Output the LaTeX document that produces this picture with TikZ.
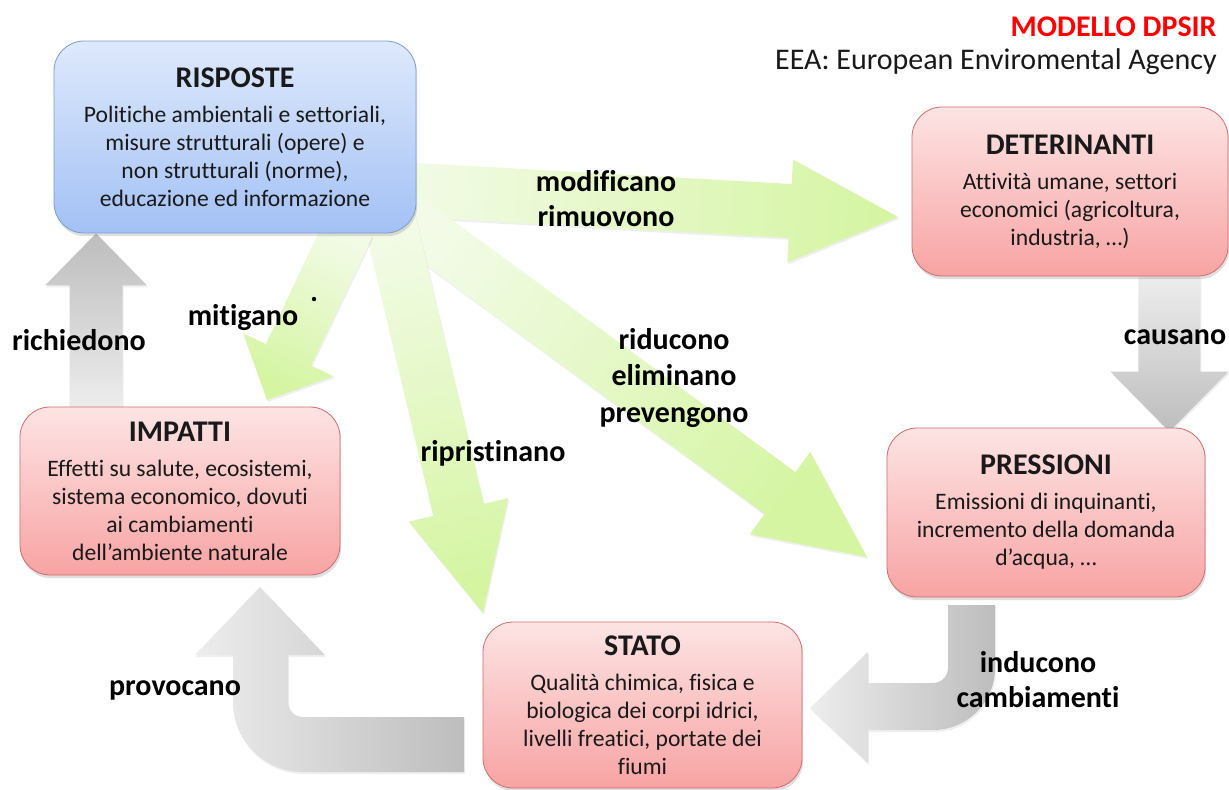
\documentclass[tikz,border=0pt]{standalone}
\usepackage{fontspec}
\setmainfont[Ligatures={NoCommon}]{Carlito}
\usetikzlibrary{calc,shadows,backgrounds}

\definecolor{redtop}{HTML}{FDE4E4}
\definecolor{redbot}{HTML}{F8A3A3}
\definecolor{redline}{HTML}{D06C6C}
\definecolor{bluetop}{HTML}{DEE9FC}
\definecolor{bluebot}{HTML}{A3C1F5}
\definecolor{blueline}{HTML}{7A9CD4}
\definecolor{greentail}{HTML}{F3FBE8}
\definecolor{greenhead}{HTML}{D5F5A2}
\definecolor{greylight}{HTML}{EDEDED}
\definecolor{greydark}{HTML}{BDBDBD}

\tikzset{
  box/.style={rectangle, rounded corners=15pt, align=center, inner sep=0pt,
    text=black!90, font=\fontsize{11.8}{14}\selectfont,
    drop shadow={opacity=0.25, shadow xshift=0.6pt, shadow yshift=-1.6pt}},
  redbox/.style={box, draw=redline, top color=redtop, bottom color=redbot},
  bluebox/.style={box, draw=blueline, top color=bluetop, bottom color=bluebot},
  lbl/.style={font=\fontsize{15}{17.5}\selectfont\bfseries, align=center, inner sep=0pt},
  greenarrow/.style={top color=greentail, bottom color=greenhead, shading angle=#1,
    drop shadow={opacity=0.12, shadow xshift=0.5pt, shadow yshift=-1pt}},
  greyarrow/.style={top color=greylight, bottom color=greydark, shading angle=#1,
    drop shadow={opacity=0.12, shadow xshift=0.5pt, shadow yshift=-1pt}}
}

% title line inside a box
\newcommand{\ttl}[1]{{\fontsize{15}{18}\selectfont\bfseries #1}}

% block arrow: [style]{tail}{tip}{half shaft}{half head}{head length}
\newcommand{\fatarrow}[6][]{%
  \coordinate (fab) at ($(#3)!#6!(#2)$);
  \path[#1] ($(#2)!#4!90:(#3)$) -- ($(fab)!#4!90:(#3)$) -- ($(fab)!#5!90:(#3)$)
    -- (#3) -- ($(fab)!#5!-90:(#3)$) -- ($(fab)!#4!-90:(#3)$)
    -- ($(#2)!#4!-90:(#3)$) -- cycle;}

\begin{document}
\begin{tikzpicture}[x=0.5pt, y=-0.5pt]
\useasboundingbox (0,0) rectangle (1229,789);

\node[bluebox, minimum width=181pt, minimum height=96pt] (risp) at (235,137)
{\ttl{RISPOSTE}\\[3.5pt] Politiche ambientali e settoriali,\\ misure strutturali (opere) e\\
 non strutturali (norme),\\ educazione ed informazione};
\node[redbox, minimum width=158pt, minimum height=84.5pt] (det) at (1070,191.5)
{\ttl{DETERINANTI}\\[3.5pt] Attività umane, settori\\ economici (agricoltura,\\ industria, …)};
\node[redbox, minimum width=159pt, minimum height=84.5pt] (pres) at (1046,512.5)
{\ttl{PRESSIONI}\\[3.5pt] Emissioni di inquinanti,\\ incremento della domanda\\ d’acqua, …};
\node[redbox, minimum width=159.5pt, minimum height=83pt] (stato) at (642.5,705)
{\ttl{STATO}\\[3.5pt] Qualità chimica, fisica e\\ biologica dei corpi idrici,\\
 livelli freatici, portate dei\\ fiumi};
\node[redbox, minimum width=160pt, minimum height=84pt] (imp) at (180,491)
{\ttl{IMPATTI}\\[3.5pt] Effetti su salute, ecosistemi,\\ sistema economico, dovuti\\
 ai cambiamenti\\ dell’ambiente naturale};

% arrows behind the boxes
\begin{scope}[on background layer]
\fill[white] (0,0) rectangle (1229,789);

\coordinate (mod0) at (380,188);
\coordinate (mod1) at (898,217);
\coordinate (rid0) at (380,199);
\coordinate (rid1) at (867,557);
\coordinate (rip0) at (385,200);
\coordinate (rip1) at (483,613);
\coordinate (mit0) at (350,225);
\coordinate (mit1) at (267,400);
\fatarrow[greenarrow=86.8]{mod0}{mod1}{13.5pt}{25.75pt}{54pt}
\fatarrow[greenarrow=53.7]{rid0}{rid1}{13pt}{25.5pt}{54pt}
\fatarrow[greenarrow=13.3]{rip0}{rip1}{13pt}{25.5pt}{53pt}
\fatarrow[greenarrow=334.6]{mit0}{mit1}{12.5pt}{25pt}{25pt}

\coordinate (ric0) at ($(imp.north west)+(76.5,0)$);
\coordinate (ric1) at (ric0 |- risp.south);
\fatarrow[greyarrow=180]{ric0}{ric1}{13.25pt}{25.5pt}{26pt}
\coordinate (cau0) at ($(det.south east)+(-59,0)$);
\coordinate (cau1) at ($(cau0 |- pres.north)+(0,4)$);
\fatarrow[greyarrow=0]{cau0}{cau1}{15.5pt}{29.5pt}{30pt}

% bent arrow pressioni -> stato
\path[left color=greylight, right color=greydark,
  drop shadow={opacity=0.12, shadow xshift=0.5pt, shadow yshift=-1pt}]
  (948,605) -- (948,668) arc[start angle=0, end angle=-90, radius=7.5pt]
  -- (868,683) -- (868,652) -- (810,708) -- (868,763) -- (868,730) -- (933,730)
  arc[start angle=-90, end angle=0, radius=31pt] -- (995,605) -- cycle;
% bent arrow stato -> impatti
\path[left color=greylight, right color=greydark,
  drop shadow={opacity=0.12, shadow xshift=0.5pt, shadow yshift=-1pt}]
  (464,717) -- (303,717) arc[start angle=-90, end angle=-180, radius=7.5pt]
  -- (288,655) -- (325,655) -- (260,587) -- (195,655) -- (233,655) -- (233,702)
  arc[start angle=180, end angle=270, radius=35pt] -- (464,772) -- cycle;
\end{scope}

\node[lbl] (modl) at (606,199) {modificano\\rimuovono};
\node[lbl] (ridl) at (674,378) {riducono\\[0.75pt]eliminano\\[0.75pt]prevengono};
\node[lbl] (ripl) at (493,453) {ripristinano};
\node[lbl] (mitl) at (243,318) {mitigano};
\fill (314,299) circle[radius=1.1pt];
\node[lbl] (ricl) at (79,340) {richiedono};
\node[lbl] (caul) at (1175,337) {causano};
\node[lbl] (indl) at (1038,679.5) {inducono\\cambiamenti};
\node[lbl] (prol) at (175,690) {provocano};

\node[anchor=east, inner sep=0pt, text=red, font=\fontsize{15}{18}\selectfont\bfseries]
 (dpsir) at (1217,27) {MODELLO DPSIR};
\node[anchor=east, inner sep=0pt, text=black!90, font=\fontsize{15}{18}\selectfont]
 (eea) at (1217,62) {EEA: European Enviromental Agency};
\end{tikzpicture}
\end{document}
